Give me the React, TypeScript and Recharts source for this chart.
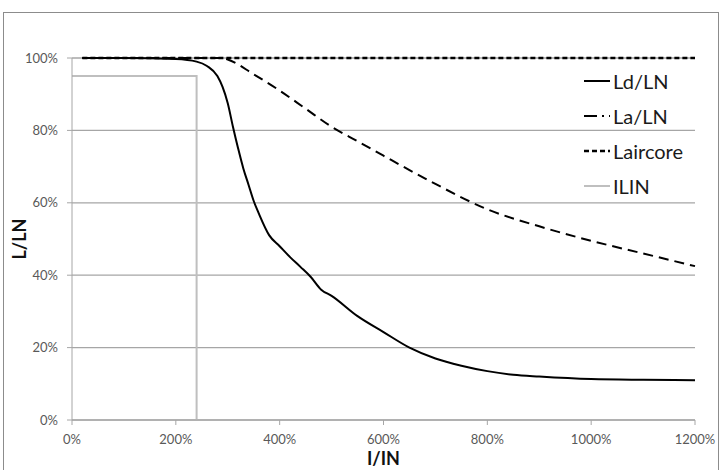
import React from 'react';
import { LineChart, Line, XAxis, YAxis, CartesianGrid, Label } from 'recharts';

// Current ratio I/IN (%) against relative inductance L/LN (%)
const ldX = [20, 100, 200, 240, 260, 280, 290, 300, 310, 320, 330, 340, 350, 360, 380, 400, 420, 440, 460, 480, 500, 550, 600, 650, 700, 750, 800, 850, 900, 1000, 1100, 1200];
const ldY = [100, 100, 99.7, 99, 97.8, 95, 92, 87.5, 81, 75, 69.5, 65, 60.5, 57, 51, 48, 45, 42.3, 39.5, 36, 34.3, 28.7, 24.3, 20, 17, 15, 13.5, 12.5, 12, 11.3, 11.1, 11];

const laX = [20, 200, 290, 300, 350, 400, 450, 500, 550, 600, 700, 800, 900, 1000, 1100, 1200];
const laY = [100, 100, 100, 99.6, 95.5, 91, 86, 81, 77, 73, 65.2, 58.2, 53.5, 49.5, 46, 42.5];

const coreX = [20, 1200];
const coreY = [100, 100];

const ilinX = [0, 240, 240];
const ilinY = [95, 95, 0];

const xTicks = [0, 200, 400, 600, 800, 1000, 1200];
const yTicks = [0, 20, 40, 60, 80, 100];

const toPoints = (xs: number[], ys: number[]) => xs.map((x, i) => ({ x, y: ys[i] }));

const ldData = toPoints(ldX, ldY);
const laData = toPoints(laX, laY);
const coreData = toPoints(coreX, coreY);
const ilinData = toPoints(ilinX, ilinY);

const FONT = 'Lato, "Open Sans", sans-serif';

const legendItems = [
  { name: 'Ld/LN', color: '#000000', dash: undefined as string | undefined, width: 2 },
  { name: 'La/LN', color: '#000000', dash: '13 5 2 5', width: 2 },
  { name: 'Laircore', color: '#000000', dash: '5 3', width: 2.5 },
  { name: 'ILIN', color: '#bfbfbf', dash: undefined as string | undefined, width: 2 },
];

const LegendBox = () => (
  <div style={{ position: 'absolute', left: 584, top: 63, fontFamily: FONT }}>
    {legendItems.map((it) => (
      <div key={it.name} style={{ display: 'flex', alignItems: 'center', height: 35 }}>
        <svg width={28} height={10} style={{ marginRight: 1 }}>
          <line x1={0} y1={5} x2={26} y2={5} stroke={it.color} strokeWidth={it.width} strokeDasharray={it.dash} />
        </svg>
        <span style={{ fontSize: 20, color: '#1a1a1a' }}>{it.name}</span>
      </div>
    ))}
  </div>
);

const pct = (v: number) => `${v}%`;

export default function App() {
  return (
    <div style={{ position: 'absolute', left: 0, top: 0, width: 724, height: 470, overflow: 'hidden', background: '#fff' }}>
      <div style={{ position: 'absolute', left: 3, top: 12, width: 716, height: 470, border: '1px solid #8c8c8c', boxSizing: 'border-box' }} />
      <div style={{ position: 'absolute', left: 0, top: 0 }}>
        <LineChart width={724} height={470} margin={{ top: 58, right: 29, bottom: 0, left: 0 }}>
          <CartesianGrid vertical={false} stroke="#a6a6a6" strokeWidth={1.3} />
          <XAxis
            type="number"
            dataKey="x"
            domain={[0, 1200]}
            ticks={xTicks}
            tickFormatter={pct}
            height={50}
            stroke="#a6a6a6"
            tickSize={5}
            tickMargin={10}
            tick={{ fill: '#595959', fontSize: 13, fontFamily: FONT }}
            allowDuplicatedCategory={false}
          >
            <Label
              content={({ viewBox }: any) => (
                <text x={viewBox.x + viewBox.width / 2} y={465} textAnchor="middle" fontFamily={FONT} fontWeight="bold" fontSize={18} fill="#111">
                  I/IN
                </text>
              )}
            />
          </XAxis>
          <YAxis
            type="number"
            dataKey="y"
            domain={[0, 100]}
            ticks={yTicks}
            tickFormatter={pct}
            width={72}
            stroke="#a6a6a6"
            tickSize={5}
            tickMargin={9}
            tick={{ fill: '#595959', fontSize: 13, fontFamily: FONT }}
          >
            <Label
              content={({ viewBox }: any) => {
                const cy = viewBox.y + viewBox.height / 2;
                return (
                  <text x={19} y={cy} transform={`rotate(-90 19 ${cy})`} textAnchor="middle" dominantBaseline="central" fontFamily={FONT} fontWeight="bold" fontSize={18} fill="#111">
                    L/LN
                  </text>
                );
              }}
            />
          </YAxis>
          <Line data={ilinData} dataKey="y" type="linear" stroke="#bfbfbf" strokeWidth={2} dot={false} isAnimationActive={false} />
          <Line data={ldData} dataKey="y" type="monotone" stroke="#000" strokeWidth={2} dot={false} isAnimationActive={false} />
          <Line data={laData} dataKey="y" type="monotone" stroke="#000" strokeWidth={2} strokeDasharray="10 6" dot={false} isAnimationActive={false} />
          <Line data={coreData} dataKey="y" type="linear" stroke="#000" strokeWidth={2.5} strokeDasharray="5 3" dot={false} isAnimationActive={false} />
        </LineChart>
      </div>
      <LegendBox />
    </div>
  );
}
